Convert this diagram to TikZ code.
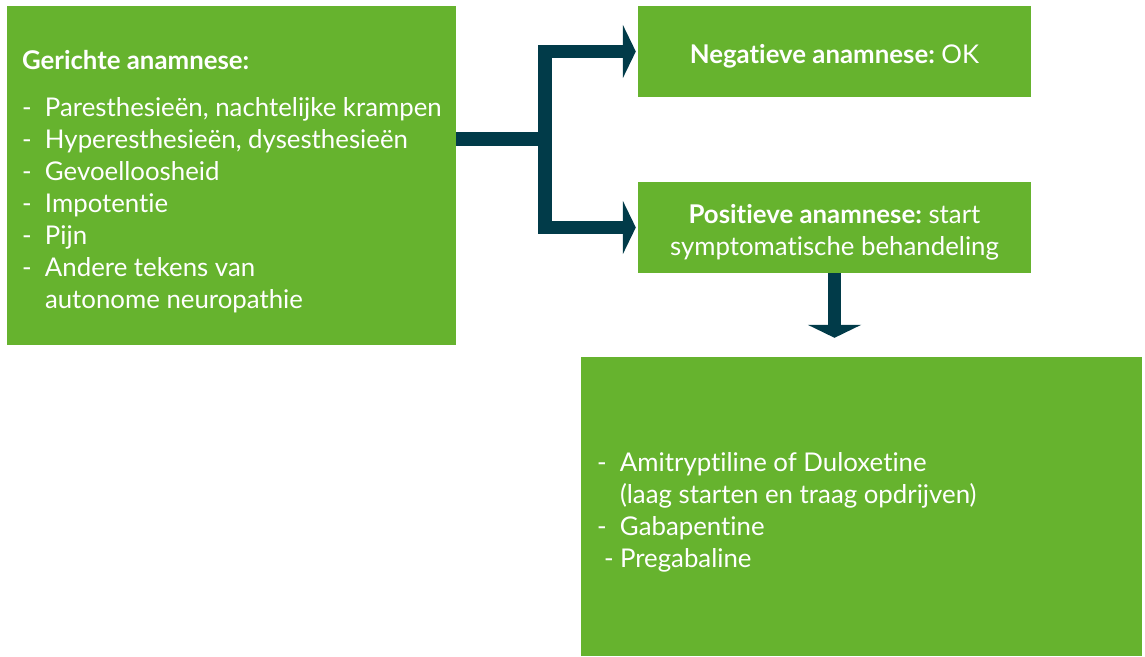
\documentclass[tikz,border=0pt]{standalone}
\usepackage{fontspec}
\setmainfont{Lato}[Ligatures={NoCommon}]
\usetikzlibrary{arrows.meta}
\definecolor{boxgreen}{RGB}{102,179,46}
\definecolor{flowteal}{RGB}{1,59,73}
\newcommand{\itemdash}[1][0pt]{\makebox[23pt][l]{\hspace{#1}-}}
\begin{document}
\begin{tikzpicture}[x=1pt,y=-1pt,
  greenbox/.style={draw=none,fill=boxgreen,rectangle,inner sep=0pt},
  boxtext/.style={text=white,inner sep=0pt,font=\fontsize{25.8}{32}\selectfont},
  flowline/.style={draw=flowteal,line width=13.5pt,line join=miter},
  flowarrow/.style={flowline,-{Triangle[length=13pt 0,width=53pt 0]}}]
\useasboundingbox (0,0) rectangle (1145,656);

% boxes
\node[greenbox,minimum width=449pt,minimum height=339pt] (hist) at (231.5,175.5) {};
\node[greenbox,minimum width=393pt,minimum height=91pt] (neg) at (834.5,51.5) {};
\node[greenbox,minimum width=393pt,minimum height=91pt] (pos) at (834.5,227.5) {};
\node[greenbox,minimum width=561pt,minimum height=299pt] (drugs) at (861.5,506.5) {};

% symptom checklist
\node[boxtext,anchor=west,align=left] (histtext) at ([xshift=15pt,yshift=-6pt]hist.west) {%
  \textbf{Gerichte anamnese:}\\[15pt]
  \itemdash Paresthesieën, nachtelijke krampen\\
  \itemdash Hyperesthesieën, dysesthesieën\\
  \itemdash Gevoelloosheid\\
  \itemdash Impotentie\\
  \itemdash Pijn\\
  \itemdash Andere tekens van\\
  \hspace*{23pt}autonome neuropathie};

% outcomes
\node[boxtext,align=center] (negtext) at ([yshift=-5pt]neg.center)
  {\textbf{Negatieve anamnese:}~OK};
\node[boxtext,align=center] (postext) at ([yshift=-5pt]pos.center)
  {\textbf{Positieve anamnese:}~start\\symptomatische behandeling};

% treatment options
\node[boxtext,anchor=west,align=left] (drugstext) at ([xshift=16pt,yshift=-6pt]drugs.west) {%
  \itemdash Amitryptiline of Duloxetine\\
  \hspace*{23pt}(laag starten en traag opdrijven)\\
  \itemdash Gabapentine\\
  \itemdash[7pt]Pregabaline};

% branching connector
\coordinate (split) at (545,139);
\draw[flowline] (hist.east |- split) -- (split);
\draw[flowarrow,shorten >=2pt] (split) |- (neg.west);
\draw[flowarrow,shorten >=2pt] (split) |- (pos.west);
\draw[flowarrow,shorten >=19pt] (pos.south) -- (pos.south |- drugs.north);
\end{tikzpicture}
\end{document}
